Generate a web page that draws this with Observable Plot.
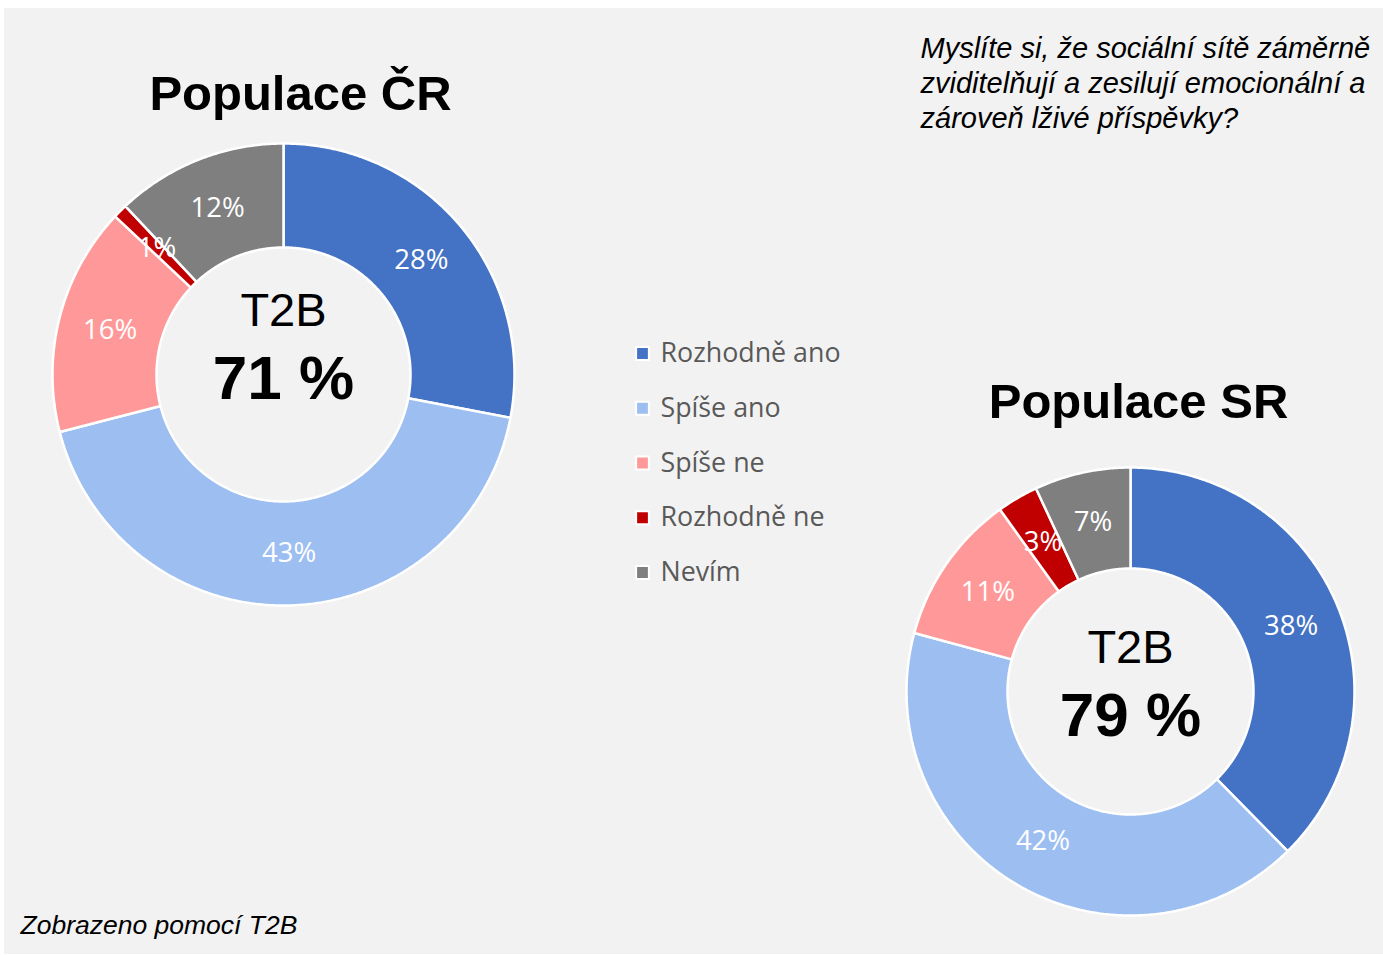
<!DOCTYPE html>
<html><head><meta charset="utf-8">
<script src="https://cdn.jsdelivr.net/npm/d3@7"></script>
<script src="https://cdn.jsdelivr.net/npm/@observablehq/plot@0.6"></script>
<style>
html,body{margin:0;padding:0;background:#fff;}
#chart{position:absolute;left:4px;top:8px;width:1379px;height:946px;background:#f2f2f2;overflow:hidden;}
</style></head><body><div id="chart"></div>
<script>
// ---- data ----
const categories = ["Rozhodně ano", "Spíše ano", "Spíše ne", "Rozhodně ne", "Nevím"];
const colors = ["#4472C4", "#9DBEF0", "#FF9999", "#C00000", "#7F7F7F"];
const valuesCR = [28, 43, 16, 1, 12];
const valuesSR = [38, 42, 11, 3, 7];
const titles = ["Populace ČR", "Populace SR"];
const t2bLabel = "T2B";
const t2bValues = ["71 %", "79 %"];
const questionLines = [
  "Myslíte si, že sociální sítě záměrně",
  "zviditelňují a zesilují emocionální a",
  "zároveň lživé příspěvky?"
];
const footnote = "Zobrazeno pomocí T2B";

// ---- layout ----
const W = 1379, H = 946;
const donuts = [
  {values: valuesCR, cx: 279, cy: 366, ro: 231, ri: 127, title: titles[0], tx: 296, ty: 101, t2bY: 317, valY: 390, t2b: t2bValues[0]},
  {values: valuesSR, cx: 1126, cy: 683, ro: 224, ri: 123, title: titles[1], tx: 1134, ty: 409, t2bY: 654, valY: 727, t2b: t2bValues[1]}
];

const slicePts = [], labels = [], titleRows = [], centerRows = [];
donuts.forEach((d, di) => {
  const arcs = d3.pie().sort(null).value(v => v)(d.values);
  arcs.forEach((a, i) => {
    const key = di + "-" + i;
    const step = Math.PI / 360;
    const n = Math.max(2, Math.ceil((a.endAngle - a.startAngle) / step));
    for (let k = 0; k <= n; k++) {
      const t = a.startAngle + (a.endAngle - a.startAngle) * k / n;
      slicePts.push({key, color: colors[i], x: d.cx + d.ro * Math.sin(t), y: d.cy - d.ro * Math.cos(t)});
    }
    for (let k = n; k >= 0; k--) {
      const t = a.startAngle + (a.endAngle - a.startAngle) * k / n;
      slicePts.push({key, color: colors[i], x: d.cx + d.ri * Math.sin(t), y: d.cy - d.ri * Math.cos(t)});
    }
    const m = (a.startAngle + a.endAngle) / 2, rm = (d.ro + d.ri) / 2;
    labels.push({x: d.cx + rm * Math.sin(m), y: d.cy - rm * Math.cos(m), text: d.values[i] + "%"});
  });
  titleRows.push({x: d.tx, y: d.ty, text: d.title});
  centerRows.push({x: d.cx, y: d.t2bY, text: t2bLabel, big: false});
  centerRows.push({x: d.cx, y: d.valY, text: d.t2b, big: true});
});

const legendRows = categories.map((c, i) => ({c, color: colors[i], x: 638, y: 345 + i * 54.75}));
const qRows = questionLines.map((t, i) => ({text: t, x: 916, y: 49 + i * 35}));

const chart = Plot.plot({
  width: W, height: H, margin: 0,
  x: {domain: [0, W], axis: null},
  y: {domain: [0, H], reverse: true, axis: null},
  color: {type: "identity"},
  style: {background: "transparent", overflow: "visible"},
  marks: [
    Plot.line(slicePts, {x: "x", y: "y", z: "key", fill: "color", stroke: "white", strokeWidth: 2.5, curve: "linear-closed", strokeLinejoin: "miter"}),
    Plot.text(labels, {x: "x", y: "y", text: "text", fill: "white", fontSize: 27.5, fontFamily: "Open Sans"}),
    Plot.text(titleRows, {x: "x", y: "y", text: "text", fill: "black", fontSize: 49, fontWeight: "bold", fontFamily: "Liberation Sans, Arial", lineAnchor: "bottom", textAnchor: "middle"}),
    Plot.text(centerRows.filter(d => !d.big), {x: "x", y: "y", text: "text", fill: "black", fontSize: 47, fontFamily: "Liberation Sans, Arial", lineAnchor: "bottom"}),
    Plot.text(centerRows.filter(d => d.big), {x: "x", y: "y", text: "text", fill: "black", fontSize: 62, fontWeight: "bold", fontFamily: "Liberation Sans, Arial", lineAnchor: "bottom"}),
    Plot.dot(legendRows, {x: "x", y: "y", symbol: "square", r: 7.2, fill: "color", stroke: "white", strokeWidth: 2}),
    Plot.text(legendRows, {x: d => d.x + 18, y: "y", text: "c", textAnchor: "start", fill: "#595959", fontSize: 26.8, fontFamily: "Open Sans"}),
    Plot.text(qRows, {x: "x", y: "y", text: "text", textAnchor: "start", lineAnchor: "bottom", fill: "black", fontSize: 29, fontStyle: "italic", fontFamily: "Liberation Sans, Arial"}),
    Plot.text([footnote], {x: 16, y: 925, text: d => d, textAnchor: "start", lineAnchor: "bottom", fill: "black", fontSize: 26.5, fontStyle: "italic", fontFamily: "Liberation Sans, Arial"})
  ]
});
document.getElementById("chart").appendChild(chart);
</script>
</body></html>
